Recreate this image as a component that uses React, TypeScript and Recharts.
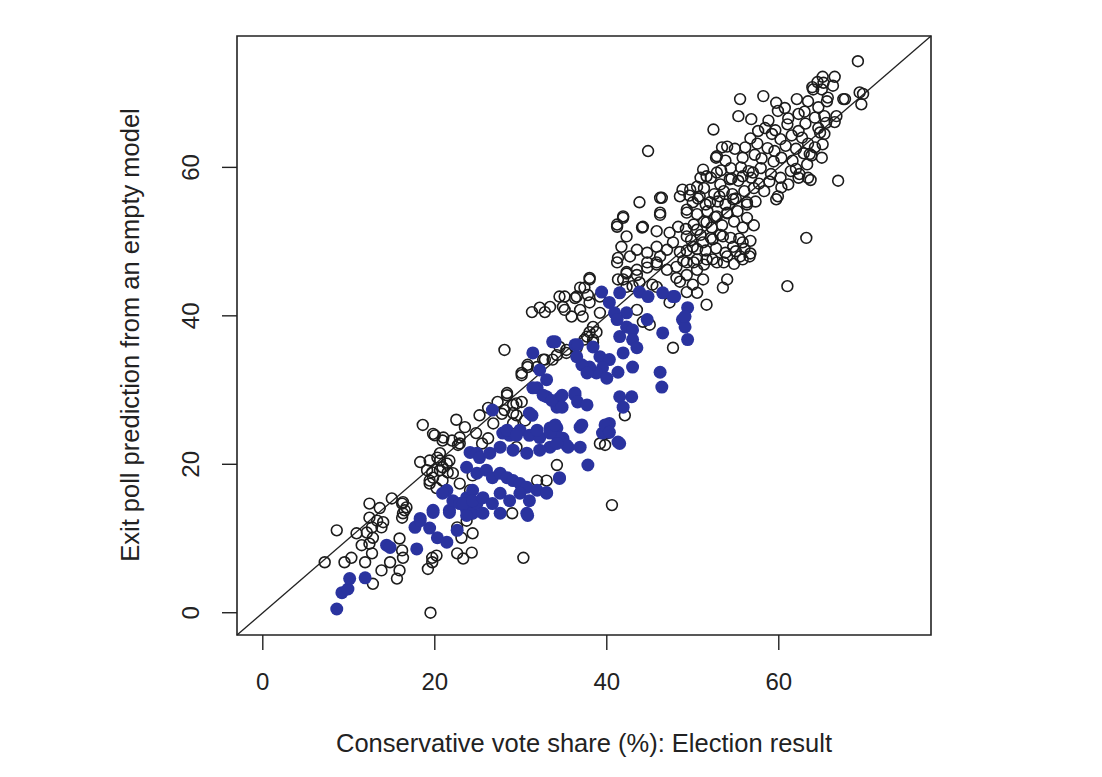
import React from 'react';
import { ReferenceArea, ReferenceLine, Scatter, ScatterChart, XAxis, YAxis } from 'recharts';

type Pt = [number, number];

// open circles: constituencies outside the highlighted group
const openLowBand: Pt[] = [
  [18.6, 25.3], [20.0, 23.9], [20.9, 23.2], [22.0, 23.2], [22.9, 23.6], [22.9, 22.8], [18.3, 20.3], [19.4, 20.5],
  [20.6, 20.5], [21.4, 20.1], [19.7, 18.9], [20.6, 19.2], [21.5, 18.9], [19.4, 17.8], [20.2, 16.8], [20.6, 21.5],
  [12.4, 14.7], [13.6, 14.1], [15.0, 15.4], [16.2, 14.7], [16.5, 13.8], [16.2, 12.8], [16.7, 14.2], [12.4, 12.8],
  [13.3, 12.4], [13.8, 11.5], [12.7, 11.5], [14.0, 12.2], [8.6, 11.1], [10.9, 10.7], [12.1, 10.8], [12.8, 10.1],
  [12.4, 9.3], [11.5, 9.1], [15.9, 10.0], [16.2, 8.4], [7.2, 6.8], [9.5, 6.8], [10.3, 7.4], [11.9, 6.8],
  [13.8, 5.7], [12.7, 8.0], [14.8, 6.8], [16.3, 7.4], [15.9, 5.7], [15.6, 4.6], [19.7, 7.4], [20.2, 7.7],
  [19.7, 6.8], [19.2, 5.9], [12.8, 3.9], [22.6, 8.0], [23.3, 7.3], [24.3, 8.1], [19.5, 0.0], [24.4, 18.5],
  [24.1, 16.5], [22.9, 17.4], [23.7, 12.4], [24.4, 10.7], [22.6, 11.5], [23.1, 10.1], [16.3, 14.9], [16.3, 13.4],
];

const openMidBand: Pt[] = [
  [28.1, 35.4], [30.8, 33.4], [30.1, 32.3], [31.9, 33.1], [32.8, 34.1], [34.2, 34.7], [35.3, 35.4], [25.2, 26.6],
  [26.2, 27.6], [27.3, 28.4], [28.4, 29.3], [29.1, 28.0], [30.1, 28.4], [29.5, 26.6], [30.5, 25.9], [29.1, 25.5],
  [19.8, 24.1], [21.0, 23.6], [22.7, 22.6], [20.3, 20.9], [20.9, 19.6], [21.7, 20.5], [19.1, 19.2], [19.8, 18.2],
  [20.9, 17.8], [22.1, 18.8], [19.4, 17.4], [26.2, 23.5], [29.5, 22.3], [34.2, 19.9], [31.9, 17.8], [33.0, 17.8],
  [29.0, 13.4], [24.4, 13.4], [22.5, 26.0], [23.5, 25.0], [24.8, 24.2], [25.5, 22.8], [26.8, 25.5], [27.8, 26.8],
  [28.4, 29.6], [29.5, 28.2], [29.1, 26.9], [28.1, 27.3], [42.1, 26.6], [40.1, 24.2], [39.2, 22.8], [39.8, 22.6],
  [40.6, 14.5], [30.3, 7.4], [32.6, 34.1], [30.8, 33.1], [30.1, 32.0], [33.7, 34.1], [35.3, 35.0], [34.5, 35.8],
  [38.0, 37.8], [38.8, 37.8], [38.4, 36.8], [37.4, 36.8], [36.5, 35.7], [38.4, 36.4], [37.7, 37.2],
];

const openUpperBand: Pt[] = [
  [41.2, 47.2], [42.3, 45.9], [43.5, 45.5], [44.7, 46.5], [45.8, 46.9], [47.0, 46.2], [48.1, 46.6], [49.3, 45.5],
  [50.5, 46.2], [48.5, 44.6], [50.0, 44.2], [38.0, 45.1], [36.9, 43.8], [37.8, 42.8], [36.3, 42.4], [34.5, 42.6],
  [35.1, 40.8], [33.4, 41.2], [32.2, 41.1], [31.3, 40.5], [32.8, 40.5], [41.3, 44.9], [42.3, 43.9], [43.0, 44.0],
  [43.8, 44.5], [45.3, 44.2], [45.8, 43.9], [43.5, 40.8], [44.2, 39.2], [45.0, 38.8], [47.3, 41.8], [47.7, 35.7],
  [49.3, 43.2], [43.8, 55.3], [46.2, 55.9], [48.8, 57.0], [50.5, 57.4], [51.6, 58.8], [52.8, 59.3], [54.3, 58.4],
  [55.8, 58.8], [57.0, 59.3], [41.9, 53.2], [41.2, 52.0], [44.1, 51.9], [46.2, 53.9], [45.8, 51.4], [47.3, 51.2],
  [48.3, 52.0], [49.3, 53.9], [50.0, 55.3], [50.8, 56.1], [52.0, 55.3], [53.1, 56.1], [54.7, 55.7], [56.3, 55.3],
  [54.0, 53.9], [52.8, 53.4], [51.6, 52.6], [50.5, 51.6], [49.3, 50.7], [42.3, 50.7], [41.7, 49.3], [41.3, 47.8],
  [42.7, 48.0], [43.5, 48.9], [44.7, 48.5], [45.8, 49.3], [46.2, 48.0], [47.0, 48.9], [47.7, 49.9], [48.5, 48.6],
  [50.0, 49.3], [51.2, 49.9], [52.3, 50.3], [53.5, 50.7], [54.7, 49.3], [55.8, 49.9], [56.6, 48.0], [55.5, 48.0],
  [54.0, 48.0], [52.8, 47.2], [51.6, 47.6], [50.5, 47.6], [49.3, 47.2], [45.8, 47.2], [44.7, 47.2], [43.5, 46.2],
  [42.3, 45.7], [41.9, 44.9], [38.0, 44.9], [37.4, 43.8], [36.5, 42.6], [35.1, 42.6], [34.9, 41.2], [36.9, 40.8],
  [38.0, 41.8], [39.2, 42.6], [35.9, 39.9], [37.2, 39.9], [38.4, 38.5], [39.2, 40.4], [51.2, 44.9], [53.5, 43.8],
  [54.0, 44.9], [50.5, 43.1], [51.6, 41.5], [48.1, 45.1], [44.8, 62.2], [46.4, 55.9], [46.2, 53.6], [41.9, 53.4],
  [41.2, 52.3], [44.2, 52.0], [48.5, 56.1], [49.7, 57.0], [51.2, 59.7], [52.8, 61.5], [54.0, 62.8],
];

const openTopCluster: Pt[] = [
  [55.5, 69.2], [58.2, 69.6], [52.4, 65.1], [55.3, 66.9], [56.8, 66.5], [59.7, 68.7], [60.7, 68.0], [62.1, 69.2],
  [63.4, 68.9], [64.0, 70.5], [65.2, 71.4], [66.3, 71.0], [65.7, 69.4], [67.5, 69.2], [69.4, 70.1], [69.6, 68.5],
  [64.6, 68.1], [66.7, 66.9], [65.5, 66.0], [64.2, 66.7], [63.0, 67.5], [62.3, 67.2], [61.1, 66.6], [59.9, 67.6],
  [58.8, 66.3], [58.4, 65.3], [59.6, 65.0], [61.0, 65.8], [62.3, 64.9], [63.1, 65.9], [64.6, 65.3], [65.3, 64.5],
  [62.7, 64.0], [61.5, 64.3], [60.2, 63.8], [59.2, 64.5], [57.6, 64.9], [56.7, 63.9], [56.1, 62.7], [57.5, 63.2],
  [58.7, 62.6], [59.5, 62.2], [60.8, 62.9], [62.0, 62.5], [63.4, 63.2], [64.2, 62.7], [65.0, 61.3], [63.8, 61.6],
  [62.9, 61.9], [61.6, 60.9], [60.3, 61.3], [59.4, 60.8], [58.0, 61.2], [57.2, 61.7], [55.8, 61.3], [54.9, 62.5],
  [53.4, 62.7], [53.8, 60.9], [52.7, 61.3], [53.3, 59.6], [54.4, 59.9], [55.6, 60.0], [56.5, 59.5], [57.9, 59.9],
  [59.1, 59.1], [60.2, 58.6], [61.4, 59.5], [62.0, 59.8], [63.3, 60.4], [63.7, 58.3], [62.3, 58.6], [61.1, 57.7],
  [60.3, 57.3], [58.9, 58.1], [57.7, 57.8], [56.8, 58.6], [55.3, 58.2], [54.5, 58.5], [53.2, 57.7], [52.1, 58.6],
  [50.9, 58.6], [51.3, 57.2], [52.5, 56.4], [53.6, 56.8], [54.6, 56.4], [56.0, 56.8], [57.1, 57.2], [58.3, 56.8],
  [59.7, 55.7], [57.3, 55.4], [56.3, 55.0], [55.0, 55.8], [53.8, 55.0], [52.9, 55.4], [51.5, 55.0], [50.6, 55.8],
  [49.6, 56.2], [49.3, 54.3], [50.5, 53.7], [51.7, 54.1], [52.6, 53.3], [54.0, 53.8], [55.2, 54.1], [56.3, 53.2],
  [57.1, 52.2], [55.8, 51.9], [54.8, 52.7], [53.4, 52.2], [52.2, 51.9], [51.3, 52.7], [50.1, 52.3], [49.2, 51.7],
  [49.8, 50.2], [50.9, 50.9], [52.1, 50.5], [53.2, 50.9], [54.4, 50.5], [55.4, 50.4], [56.7, 50.1], [56.0, 49.0],
  [55.0, 48.7], [53.8, 48.5], [52.7, 49.1], [51.5, 48.8], [50.5, 49.0], [49.3, 48.8], [48.9, 47.4], [50.1, 47.2],
  [51.3, 46.9], [52.3, 47.6], [53.6, 47.2], [54.8, 47.0], [55.8, 47.6], [56.7, 48.4], [66.9, 58.2], [63.2, 50.5],
  [63.4, 58.6], [61.0, 44.0], [69.2, 74.3], [69.8, 69.9], [67.7, 69.2], [66.5, 72.2], [65.1, 72.2], [64.5, 71.5],
  [63.9, 70.8], [65.0, 70.5], [65.6, 68.9], [65.3, 66.9], [66.5, 66.1], [64.8, 64.7], [65.1, 63.1], [63.6, 61.8],
  [62.4, 59.1], [59.9, 56.1],
];

// filled blue circles: the highlighted constituencies
const blueLower: Pt[] = [
  [8.6, 0.5], [9.2, 2.7], [9.9, 3.2], [10.1, 4.6], [11.9, 4.7], [14.4, 9.1], [14.8, 8.8], [17.7, 11.5],
  [18.3, 12.7], [19.4, 11.4], [19.8, 13.8], [20.3, 10.1], [21.4, 9.5], [22.6, 11.1], [17.9, 8.6], [21.4, 16.5],
  [21.7, 13.8], [22.1, 15.1], [22.9, 14.7], [23.7, 15.5], [24.4, 16.5], [23.7, 13.8], [24.4, 13.4], [24.9, 14.7],
  [23.7, 19.6], [24.1, 21.6], [24.9, 21.5], [25.2, 20.9], [26.4, 21.5], [24.9, 18.8], [26.0, 19.2], [26.7, 18.2],
  [27.6, 18.8], [28.4, 18.2], [29.1, 17.8], [29.9, 17.4], [30.7, 16.9], [31.9, 16.5], [34.5, 18.2], [33.0, 16.1],
  [20.9, 16.1], [23.3, 14.7], [24.4, 15.1], [25.6, 15.5], [26.7, 14.7], [27.6, 16.1], [28.7, 15.1], [29.9, 16.1],
  [31.0, 15.1], [21.7, 13.5], [23.7, 13.1], [25.6, 13.4], [27.6, 13.4], [30.7, 13.4], [18.3, 12.4], [19.8, 13.5],
  [30.8, 13.1], [33.0, 16.2], [34.5, 18.1], [37.8, 19.9],
];

const blueUpper: Pt[] = [
  [33.7, 36.5], [36.3, 36.1], [31.4, 35.0], [32.2, 32.7], [33.0, 31.4], [31.9, 30.3], [33.0, 29.1], [34.5, 28.9],
  [34.2, 27.7], [36.3, 29.3], [36.9, 25.0], [26.7, 27.3], [31.3, 26.6], [27.9, 24.2], [28.7, 23.9], [29.9, 24.6],
  [31.0, 23.9], [32.2, 23.6], [33.6, 24.6], [34.2, 24.9], [34.9, 23.5], [35.5, 22.3], [33.4, 22.3], [32.2, 21.9],
  [30.7, 21.5], [29.1, 21.9], [27.6, 22.3], [39.4, 43.2], [41.5, 43.1], [43.8, 43.2], [44.8, 42.6], [46.5, 43.1],
  [47.7, 42.6], [49.4, 41.1], [48.8, 39.5], [49.1, 38.5], [49.4, 36.8], [46.5, 37.7], [44.7, 39.5], [46.2, 32.4],
  [46.4, 30.4], [40.3, 41.8], [40.9, 40.4], [42.3, 40.4], [42.3, 38.5], [43.0, 38.1], [43.0, 36.8], [43.5, 35.7],
  [41.5, 37.2], [41.2, 39.5], [34.0, 36.5], [36.6, 36.1], [38.4, 35.8], [39.2, 34.5], [40.3, 34.1], [39.5, 33.0],
  [38.8, 32.3], [38.0, 33.1], [37.1, 33.4], [36.5, 34.5], [41.9, 35.0], [43.0, 33.1], [41.3, 32.4], [40.0, 31.6],
  [37.7, 32.3], [31.4, 30.3], [32.6, 29.3], [33.6, 28.6], [34.8, 29.3], [36.3, 29.6], [36.6, 28.4], [37.7, 28.0],
  [34.8, 27.7], [41.5, 29.1], [42.9, 29.1], [41.9, 27.7], [37.1, 25.3], [40.3, 25.5], [39.5, 24.2], [41.3, 23.0],
  [31.0, 26.9], [28.4, 24.6], [29.5, 23.9], [31.9, 24.6], [33.4, 24.9], [34.3, 23.6], [35.3, 22.6], [36.9, 22.3],
  [47.9, 42.6], [49.1, 39.9], [39.8, 25.3], [40.3, 24.3], [41.5, 22.8], [34.2, 22.8], [33.4, 24.2], [34.0, 25.3],
];

const xTicks = [0, 20, 40, 60];
const yTicks = [0, 20, 40, 60];
const domainMin = -3;
const domainMax = 77.7;

const FONT = '"Liberation Sans", Arial, Helvetica, sans-serif';
const INK = '#222';
const BLUE = '#2a339f';

const toRows = (pts: Pt[]) => pts.map(([x, y]) => ({ x, y }));

const openData = toRows([...openLowBand, ...openMidBand, ...openUpperBand, ...openTopCluster]);
const blueData = toRows([...blueLower, ...blueUpper]);

function OpenDot(props: any) {
  return <circle cx={props.cx} cy={props.cy} r={5.4} fill="none" stroke="#1c1c1c" strokeWidth={1.6} />;
}

function BlueDot(props: any) {
  return <circle cx={props.cx} cy={props.cy} r={6.5} fill={BLUE} />;
}

function XTick(props: any) {
  return (
    <text x={props.x} y={props.y + 40} textAnchor="middle" fontSize={24} fontFamily={FONT} fill={INK}>
      {props.payload.value}
    </text>
  );
}

function YTick(props: any) {
  const bx = props.x - 23;
  return (
    <text
      x={bx}
      y={props.y}
      transform={`rotate(-90 ${bx} ${props.y})`}
      textAnchor="middle"
      fontSize={24}
      fontFamily={FONT}
      fill={INK}
    >
      {props.payload.value}
    </text>
  );
}

export default function App() {
  return (
    <div style={{ position: 'relative', width: 1086, height: 760, background: '#fff' }}>
      <ScatterChart width={1086} height={760} margin={{ top: 28, right: 163, bottom: 73, left: 149 }}>
        <XAxis
          type="number"
          dataKey="x"
          domain={[domainMin, domainMax]}
          ticks={xTicks}
          allowDataOverflow
          height={60}
          axisLine={false}
          tickLine={{ stroke: INK, strokeWidth: 1.4 }}
          tickSize={15}
          tickMargin={0}
          tick={<XTick />}
        />
        <YAxis
          type="number"
          dataKey="y"
          domain={[domainMin, domainMax]}
          ticks={yTicks}
          allowDataOverflow
          width={80}
          axisLine={false}
          tickLine={{ stroke: INK, strokeWidth: 1.4 }}
          tickSize={15}
          tickMargin={0}
          tick={<YTick />}
        />
        <Scatter data={openData} shape={<OpenDot />} isAnimationActive={false} />
        <Scatter data={blueData} shape={<BlueDot />} isAnimationActive={false} />
        <ReferenceLine
          segment={[{ x: domainMin, y: domainMin }, { x: domainMax, y: domainMax }]}
          stroke={INK}
          strokeWidth={1.3}
        />
        <ReferenceArea
          x1={domainMin}
          x2={domainMax}
          y1={domainMin}
          y2={domainMax}
          fill="none"
          fillOpacity={0}
          stroke={INK}
          strokeWidth={1.6}
        />
      </ScatterChart>
      <svg
        width={1086}
        height={760}
        style={{ position: 'absolute', left: 0, top: 0, pointerEvents: 'none' }}
      >
        <text x={576} y={744} textAnchor="middle" fontSize={25.5} fontFamily={FONT} fill={INK}>
          Conservative vote share (%): Election result
        </text>
        <text
          x={131}
          y={327}
          transform="rotate(-90 131 327)"
          textAnchor="middle"
          fontSize={25.5}
          fontFamily={FONT}
          fill={INK}
        >
          Exit poll prediction from an empty model
        </text>
      </svg>
    </div>
  );
}
